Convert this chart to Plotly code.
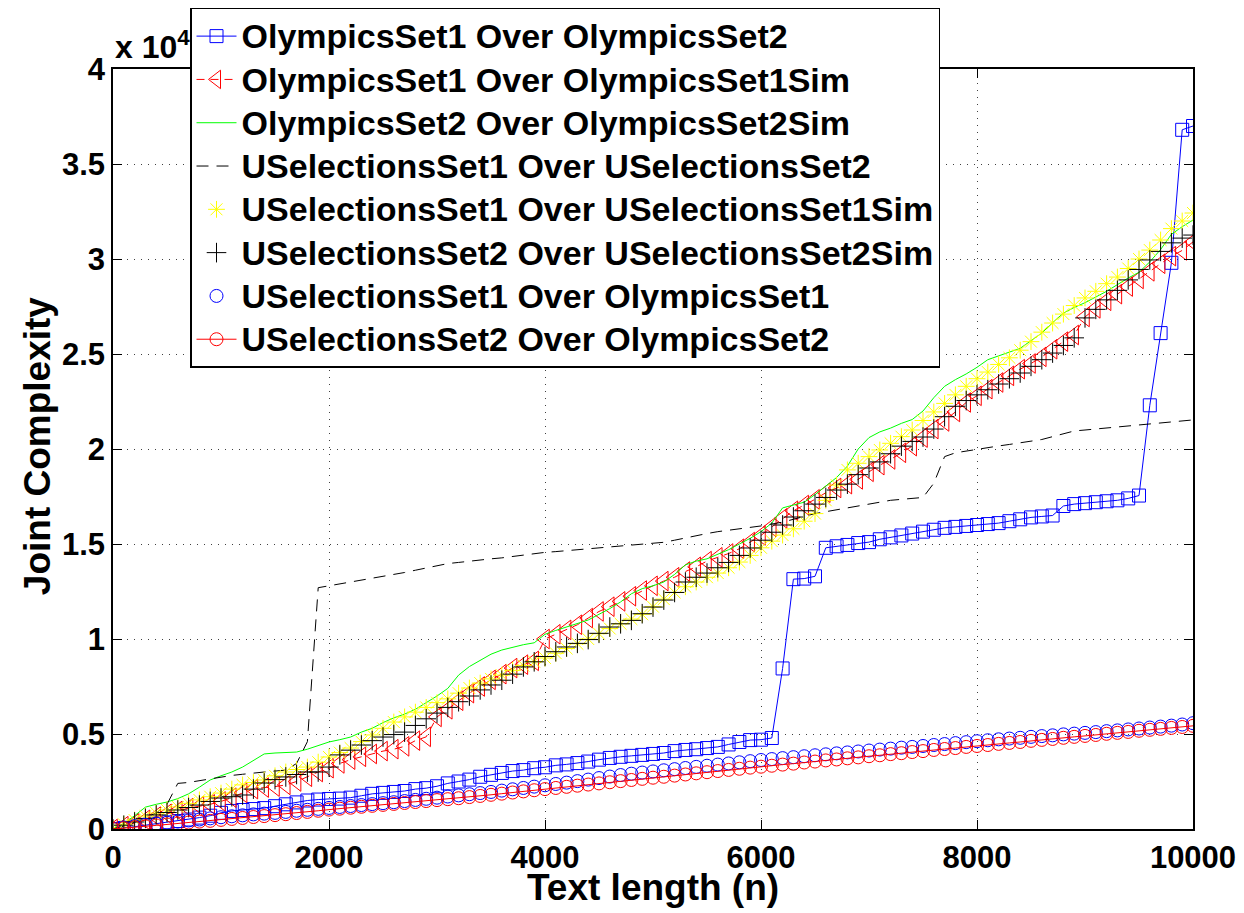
import plotly.graph_objects as go

# x positions (text length n)
text_length = list(range(0, 10001, 100))

olympics1_over_olympics2 = [
    0, 50, 120, 200, 280, 350, 420, 500, 600, 700,
    850, 950, 1000, 1050, 1100, 1200, 1300, 1400, 1500, 1550,
    1580, 1600, 1650, 1750, 1850, 1900, 1950, 2000, 2100, 2150,
    2250, 2400, 2500, 2600, 2750, 2850, 2950, 3050, 3100, 3200,
    3250, 3350, 3400, 3470, 3550, 3650, 3740, 3800, 3850, 3900,
    3950, 4000, 4100, 4160, 4200, 4260, 4320, 4450, 4580, 4680,
    4700, 4790, 8450, 13150, 13180, 13300, 14800, 14880, 14950, 15050,
    15100, 15250, 15350, 15450, 15550, 15650, 15750, 15850, 15900, 15950,
    16000, 16050, 16100, 16200, 16300, 16400, 16450, 16500, 17000, 17100,
    17150, 17200, 17250, 17300, 17400, 17550, 22300, 26100, 29800, 36800,
    37000]

olympics1_over_olympics1sim = [
    0, 150, 300, 480, 650, 800, 950, 1100, 1200, 1300,
    1450, 1650, 1900, 2100, 2180, 2230, 2320, 2500, 2750, 3000,
    3200, 3450, 3650, 3800, 3950, 4100, 4200, 4350, 4650, 4850,
    5900, 6300, 6750, 7150, 7500, 7850, 8150, 8470, 8650, 8850,
    10000, 10250, 10480, 10750, 11100, 11450, 11700, 11980, 12250, 12550,
    12800, 13050, 13250, 13550, 13800, 14100, 14300, 14500, 14750, 15100,
    15450, 15900, 16350, 16750, 17050, 17350, 17700, 17950, 18150, 18400,
    18800, 19150, 19450, 19800, 20150, 20600, 21050, 21450, 21950, 22450,
    22800, 23150, 23500, 23850, 24200, 24500, 24850, 25250, 25650, 26000,
    26950, 27400, 27800, 28150, 28550, 28950, 29350, 29750, 30150, 30450,
    30900]

olympics2_over_olympics2sim = [
    0, 300, 700, 1150, 1300, 1420, 1600, 1850, 2200, 2580,
    2800, 3000, 3260, 3600, 3950, 4000, 4030, 4050, 4200, 4400,
    4580, 4700, 4840, 5100, 5300, 5600, 5850, 6050, 6300, 6650,
    7000, 7400, 8100, 8550, 8880, 9200, 9420, 9580, 9700, 9800,
    10250, 10450, 10630, 10800, 11000, 11300, 11600, 11950, 12380, 12650,
    12800, 13000, 13400, 13900, 14100, 14220, 14450, 14700, 15000, 15300,
    15650, 16100, 16900, 17050, 17200, 17600, 18050, 18500, 19100, 20000,
    20600, 20900, 21100, 21350, 21550, 22000, 22700, 23300, 23650, 23950,
    24300, 24700, 24900, 25100, 25300, 25700, 26100, 26650, 27150, 27450,
    27700, 28000, 28300, 28650, 29000, 29300, 29850, 30500, 31300, 31700,
    32050]

uselections1_over_uselections2 = [
    0, 150, 350, 600, 850, 1300, 2400, 2450, 2550, 2650,
    2750, 2820, 2880, 2950, 3000, 3050, 3100, 3450, 4600, 12700,
    12800, 12900, 13000, 13100, 13180, 13260, 13380, 13500, 13620, 13750,
    13870, 13970, 14030, 14100, 14160, 14220, 14270, 14350, 14420, 14490,
    14560, 14600, 14650, 14700, 14750, 14790, 14830, 14870, 14920, 14970,
    15030, 15090, 15200, 15330, 15450, 15550, 15650, 15720, 15800, 15880,
    15950, 16050, 16150, 16300, 16450, 16600, 16700, 16800, 16900, 17000,
    17100, 17200, 17300, 17350, 17400, 17450, 18200, 19600, 19800, 19900,
    20000, 20080, 20160, 20240, 20320, 20400, 20500, 20650, 20800, 20950,
    21000, 21050, 21100, 21150, 21200, 21250, 21300, 21350, 21420, 21480,
    21530]

uselections1_over_uselections1sim = [
    0, 250, 470, 680, 840, 1000, 1160, 1350, 1530, 1700,
    1890, 2100, 2320, 2450, 2580, 2800, 3000, 3130, 3260, 3520,
    3790, 4020, 4260, 4600, 4950, 5300, 5630, 5900, 6150, 6400,
    6650, 6850, 7150, 7420, 7680, 7900, 8100, 8350, 8600, 8800,
    9000, 9250, 9500, 9750, 10000, 10280, 10550, 10800, 11050, 11300,
    11700, 12100, 12450, 12750, 13000, 13250, 13470, 13750, 14050, 14400,
    14800, 15150, 15470, 15800, 16200, 16600, 17300, 18100, 18900, 19250,
    19600, 19950, 20300, 20650, 21000, 21500, 21950, 22400, 22850, 23300,
    23700, 24050, 24450, 24800, 25200, 25650, 26150, 26630, 27100, 27550,
    27950, 28300, 28700, 29050, 29500, 30000, 30470, 31000, 31600, 32000,
    32420]

uselections2_over_uselections2sim = [
    0, 200, 370, 560, 740, 870, 1000, 1130, 1260, 1450,
    1630, 1700, 1790, 2100, 2420, 2600, 2740, 2870, 3000, 3000,
    3260, 3900, 4150, 4420, 4650, 4840, 4970, 5100, 5450, 5800,
    6100, 6400, 6700, 7000, 7320, 7580, 7830, 8150, 8530, 8800,
    9080, 9330, 9580, 9770, 9970, 10300, 10630, 10800, 10980, 11330,
    11680, 12050, 12450, 13000, 13250, 13470, 13750, 14030, 14400, 14790,
    15200, 15620, 16000, 16420, 16750, 17100, 17450, 17840, 18150, 18650,
    19000, 19320, 19750, 20150, 20400, 20630, 21050, 21700, 22250, 22550,
    22850, 23120, 23420, 23700, 24000, 24350, 24700, 25050, 25450, 25850,
    26900, 27350, 27850, 28350, 28900, 29450, 29950, 30400, 30850, 31100,
    31260]

uselections1_over_olympics1 = [
    0, 80, 150, 220, 280, 330, 390, 450, 500, 560,
    620, 670, 720, 770, 810, 850, 900, 960, 1010, 1060,
    1110, 1160, 1210, 1260, 1310, 1360, 1410, 1470, 1530, 1590,
    1650, 1710, 1770, 1830, 1890, 1950, 2020, 2090, 2160, 2230,
    2300, 2370, 2440, 2520, 2600, 2680, 2760, 2840, 2910, 2970,
    3030, 3090, 3150, 3210, 3270, 3330, 3390, 3450, 3510, 3570,
    3630, 3680, 3730, 3780, 3830, 3880, 3930, 3980, 4030, 4080,
    4130, 4180, 4230, 4280, 4320, 4370, 4420, 4470, 4520, 4570,
    4620, 4670, 4720, 4760, 4800, 4850, 4890, 4930, 4980, 5020,
    5060, 5100, 5150, 5190, 5240, 5290, 5340, 5390, 5440, 5500,
    5570]

uselections2_over_olympics2 = [
    0, 40, 90, 140, 190, 240, 290, 340, 390, 430,
    480, 530, 580, 630, 680, 730, 780, 840, 900, 960,
    1020, 1070, 1120, 1170, 1220, 1270, 1320, 1370, 1420, 1470,
    1520, 1570, 1620, 1680, 1740, 1800, 1860, 1920, 1980, 2040,
    2100, 2160, 2220, 2280, 2340, 2400, 2460, 2520, 2580, 2640,
    2700, 2750, 2810, 2870, 2930, 2990, 3050, 3110, 3170, 3230,
    3280, 3330, 3390, 3440, 3500, 3550, 3610, 3660, 3720, 3770,
    3830, 3880, 3940, 3990, 4050, 4100, 4160, 4210, 4260, 4320,
    4370, 4420, 4480, 4530, 4580, 4640, 4690, 4740, 4800, 4850,
    4900, 4950, 5010, 5060, 5110, 5170, 5220, 5270, 5320, 5370,
    5430]

series_names = [
    "OlympicsSet1 Over OlympicsSet2",
    "OlympicsSet1 Over OlympicsSet1Sim",
    "OlympicsSet2 Over OlympicsSet2Sim",
    "USelectionsSet1 Over USelectionsSet2",
    "USelectionsSet1 Over USelectionsSet1Sim",
    "USelectionsSet2 Over USelectionsSet2Sim",
    "USelectionsSet1 Over OlympicsSet1",
    "USelectionsSet2 Over OlympicsSet2",
]

x_tick_vals = [0, 2000, 4000, 6000, 8000, 10000]
y_tick_vals = [0, 5000, 10000, 15000, 20000, 25000, 30000, 35000, 40000]
y_tick_text = ["0", "0.5", "1", "1.5", "2", "2.5", "3", "3.5", "4"]

BLUE = "rgb(0,0,255)"
RED = "rgb(255,0,0)"
GREEN = "rgb(0,255,0)"
YELLOW = "rgb(255,255,0)"
BLACK = "rgb(0,0,0)"


def legend_label(s):
    return '<span style="font-size:34px">' + s + '</span>'


fig = go.Figure()

fig.add_trace(go.Scatter(
    x=text_length, y=olympics1_over_olympics2, name=legend_label(series_names[0]),
    mode="lines+markers", line=dict(color=BLUE, width=1),
    marker=dict(symbol="square-open", size=13, color=BLUE, line=dict(color=BLUE, width=1))))

fig.add_trace(go.Scatter(
    x=text_length, y=olympics1_over_olympics1sim, name=legend_label(series_names[1]),
    mode="lines+markers", line=dict(color=RED, width=1, dash="8px,6px"),
    marker=dict(symbol="triangle-left-open", size=17, color=RED, line=dict(color=RED, width=1))))

fig.add_trace(go.Scatter(
    x=text_length, y=olympics2_over_olympics2sim, name=legend_label(series_names[2]),
    mode="lines", line=dict(color=GREEN, width=1)))

fig.add_trace(go.Scatter(
    x=text_length, y=uselections1_over_uselections2, name=legend_label(series_names[3]),
    mode="lines", line=dict(color=BLACK, width=1, dash="12px,8px")))

fig.add_trace(go.Scatter(
    x=text_length, y=uselections1_over_uselections1sim, name=legend_label(series_names[4]),
    mode="markers",
    marker=dict(symbol="asterisk-open", size=14, color=YELLOW, line=dict(color=YELLOW, width=1))))

fig.add_trace(go.Scatter(
    x=text_length, y=uselections2_over_uselections2sim, name=legend_label(series_names[5]),
    mode="markers",
    marker=dict(symbol="cross-thin-open", size=14, color=BLACK, line=dict(color=BLACK, width=1))))

fig.add_trace(go.Scatter(
    x=text_length, y=uselections1_over_olympics1, name=legend_label(series_names[6]),
    mode="markers",
    marker=dict(symbol="circle-open", size=13, color=BLUE, line=dict(color=BLUE, width=1))))

fig.add_trace(go.Scatter(
    x=text_length, y=uselections2_over_olympics2, name=legend_label(series_names[7]),
    mode="lines+markers", line=dict(color=RED, width=1),
    marker=dict(symbol="circle-open", size=13, color=RED, line=dict(color=RED, width=1))))

FONT = "Liberation Sans, Arial, Helvetica, sans-serif"

axis_common = dict(
    showline=True, linecolor="black", linewidth=1.5, mirror="allticks",
    ticks="inside", ticklen=9, tickwidth=1, tickcolor="black",
    showgrid=True, gridcolor="rgba(0,0,0,0.75)", gridwidth=1, griddash="1px,6px",
    zeroline=False, tickfont=dict(family=FONT, size=31, color="black", weight="bold"),
)

fig.update_xaxes(range=[0, 10000], tickvals=x_tick_vals, ticktext=[str(v) for v in x_tick_vals], **axis_common)
fig.update_yaxes(range=[0, 40000], tickvals=y_tick_vals, ticktext=y_tick_text, **axis_common)

fig.update_layout(
    width=1236, height=905,
    margin=dict(l=105, r=51, t=61, b=84, autoexpand=False),
    plot_bgcolor="white", paper_bgcolor="white",
    font=dict(family=FONT, size=31, color="black", weight="bold"),
    showlegend=True,
    legend=dict(
        x=0.0713, y=1.0803, xanchor="left", yanchor="top",
        bgcolor="white", bordercolor="black", borderwidth=1.5,
        font=dict(family=FONT, size=31, color="black", weight="bold"),
        itemwidth=40, tracegroupgap=0,
    ),
    annotations=[
        dict(text="Text length (n)", xref="paper", yref="paper", x=0.5, y=-0.0775,
             xanchor="center", yanchor="middle", showarrow=False,
             font=dict(family=FONT, size=37, color="black", weight="bold")),
        dict(text="Joint Complexity", xref="paper", yref="paper", x=-0.0704, y=0.505,
             xanchor="center", yanchor="middle", textangle=-90, showarrow=False,
             font=dict(family=FONT, size=37, color="black", weight="bold")),
        dict(text="x 10<sup>4</sup>", xref="paper", yref="paper", x=0.0, y=1.0,
             xanchor="left", yanchor="bottom", yshift=2, showarrow=False,
             font=dict(family=FONT, size=32, color="black", weight="bold")),
    ],
)

fig.write_html("out.html")
